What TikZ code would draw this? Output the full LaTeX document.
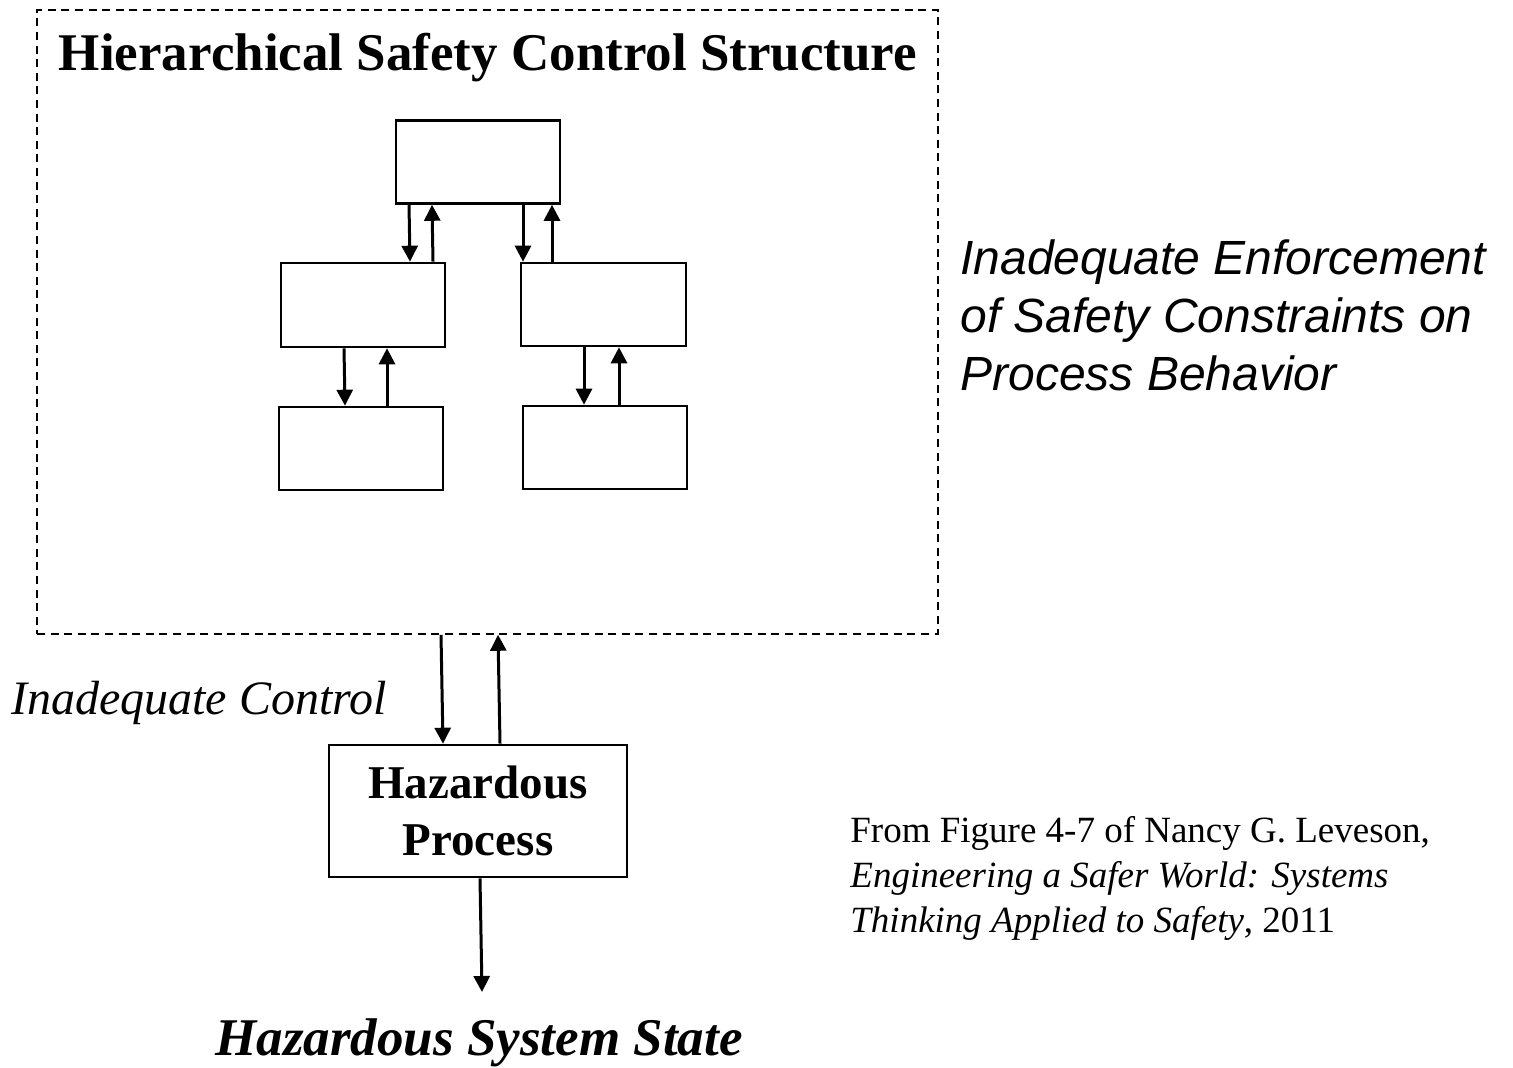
\documentclass[tikz,border=0pt]{standalone}
\usepackage{fontspec}
\setmainfont{Liberation Serif}
\newfontfamily\sansfam{Liberation Sans}
\usetikzlibrary{arrows.meta,calc}
\begin{document}
\begin{tikzpicture}[x=0.5pt,y=-0.5pt,
  box/.style={draw,line width=1.3pt,inner sep=0pt,minimum width=82pt,minimum height=41.5pt},
  arr/.style={line width=1.5pt,-{Triangle[length=8pt,width=8pt]}},
  frame/.style={draw,line width=0.8pt,dash pattern=on 4pt off 2.8pt,inner sep=0pt}]
\useasboundingbox (0,0) rectangle (1513,1068);
% outer dashed boundary of the control structure
\node[frame,minimum width=450.5pt,minimum height=312pt] (frame) at (487.5,322) {};
\node[font=\bfseries\fontsize{26.5pt}{30pt}\selectfont] (title) at (488,58) {Hierarchical Safety Control Structure};
% controller hierarchy
\node[box] (top) at (478,162) {};
\node[box,minimum height=42pt] (ml) at (363,305) {};
\node[box,minimum width=82.5pt] (mr) at (603.5,304.5) {};
\node[box] (bl) at (361,448.5) {};
\node[box] (br) at (605,447.5) {};
% controlled process
\node[box,minimum width=149pt,minimum height=66pt,align=center,
      font=\bfseries\fontsize{23.5pt}{28.5pt}\selectfont] (proc) at (478,811) {\raisebox{-1.5pt}{Hazardous}\\\raisebox{-1.5pt}{Process}};
\node[anchor=base,inner sep=0pt,font=\bfseries\itshape\fontsize{26.5pt}{30pt}\selectfont] (state) at (479,1055) {Hazardous System State};
\coordinate (stateIn) at (482,992);
% control and feedback channels
\draw[arr] ([xshift=-34.5pt]top.south) -- ([xshift=23.5pt]ml.north);
\draw[arr] ([xshift=35pt]ml.north) -- ([xshift=-23pt]top.south);
\draw[arr] ([xshift=22.5pt]top.south) -- ([xshift=-40.25pt]mr.north);
\draw[arr] ([xshift=-25.75pt]mr.north) -- ([xshift=37pt]top.south);
\draw[arr] ([xshift=-9.5pt]ml.south) -- ([xshift=-8pt]bl.north);
\draw[arr] ([xshift=13pt]bl.north) -- ([xshift=12pt]ml.south);
\draw[arr] ([xshift=-9.75pt]mr.south) -- ([xshift=-10.5pt]br.north);
\draw[arr] ([xshift=7pt]br.north) -- ([xshift=7.75pt]mr.south);
\draw[arr] ([xshift=-23.25pt]frame.south) -- ([xshift=-17.5pt]proc.north);
\draw[arr] ([xshift=11pt]proc.north) -- ([xshift=5.25pt]frame.south);
\draw[arr] ([xshift=1pt]proc.south) -- (stateIn);
% annotations
\node[font=\itshape\fontsize{24pt}{28pt}\selectfont] (ctl) at (199,703) {Inadequate Control};
\node[anchor=west,align=left,inner sep=0pt,font=\sansfam\itshape\fontsize{24pt}{29pt}\selectfont] (enf) at (960,315)
  {Inadequate Enforcement\\of Safety Constraints on\\Process Behavior};
\node[anchor=west,align=left,inner sep=0pt,font=\fontsize{18.5pt}{22.5pt}\selectfont] (src) at (850,878)
  {From Figure 4-7 of Nancy G. Leveson,\\\textit{Engineering a Safer World: Systems}\\\textit{Thinking Applied to Safety}, 2011};
\end{tikzpicture}
\end{document}
